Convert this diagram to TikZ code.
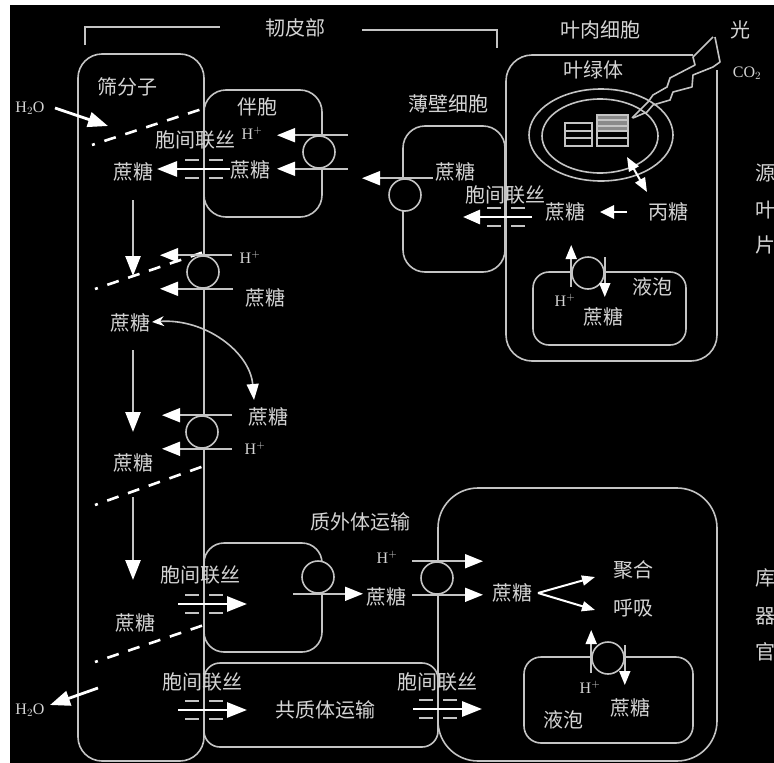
\documentclass[tikz,border=0pt]{standalone}
\usepackage{fontspec}
\setmainfont{Liberation Serif}
\newfontfamily\cjk{Noto Sans CJK SC}
\usetikzlibrary{arrows.meta}
\definecolor{wallc}{HTML}{C4C4C4}
\definecolor{txtc}{HTML}{D4D4D4}
\definecolor{granum}{HTML}{8A8A8A}
\begin{document}
\begin{tikzpicture}[x=1pt,y=-1pt,
  wall/.style={draw=wallc,line width=1.6pt},
  bracket/.style={draw=wallc,line width=2.4pt},
  lbl/.style={text=txtc,inner sep=0pt,font=\cjk\fontsize{20pt}{20pt}\selectfont},
  hlbl/.style={text=txtc,inner sep=0pt,font=\fontsize{16pt}{16pt}\selectfont},
  flow/.style={draw=white,line width=2.8pt,-{Triangle[length=20pt,width=15pt]}},
  sieveflow/.style={draw=wallc,line width=2.6pt,-{Triangle[length=20pt,width=15pt,color=white]}},
  carrier/.style={draw=wallc,line width=1.8pt,-{Triangle[length=18pt,width=14pt,color=white]}},
  vcarrier/.style={draw=wallc,line width=1.8pt,-{Triangle[length=14pt,width=11pt,color=white]}},
  branch/.style={draw=white,line width=2pt,-{Triangle[length=13pt,width=10pt]}},
  pump/.style={circle,draw=wallc,line width=1.6pt,fill=black,minimum size=32pt,inner sep=0pt},
  wet/.style={draw=white,line width=2.6pt,dash pattern=on 12pt off 10pt,dash phase=9pt},
  pdl/.style={draw=wallc,line width=2.6pt},
  pd/.pic={\draw[pdl] (-19,-9)--(-5,-9) (5,-9)--(19,-9) (-19,9)--(-5,9) (5,9)--(19,9);},
  bolt/.style={draw=wallc,line width=1.6pt,line join=round}
]
\useasboundingbox (0,0) rectangle (774,763);
\fill[white] (0,0) rectangle (774,763);
\fill[black] (10,5) rectangle (774,763);

% ---------- phloem bracket ----------
\node[lbl] (phloem) at (295,28) {韧皮部};
\coordinate (brL1) at (85,45); \coordinate (brL2) at (220,27);
\coordinate (brR1) at (362,30); \coordinate (brR2) at (497,48);
\draw[bracket] (brL1) |- (brL2);
\draw[bracket] (brR1) -| (brR2);

% ---------- cell outlines ----------
\draw[wall,rounded corners=24pt] (78,54) rectangle (204,761);      % sieve element
\draw[wall,rounded corners=22pt] (204,90) rectangle (322,217);     % companion cell
\draw[wall,rounded corners=22pt] (403,126) rectangle (505,272);    % parenchyma
\draw[wall,rounded corners=26pt] (693,55) -- (506,55) -- (506,361) -- (717,361) -- (717,70); % mesophyll
\draw[wall,rounded corners=16pt] (533,272) rectangle (686,345);    % mesophyll vacuole
\draw[wall] (601,135) ellipse [x radius=72pt, y radius=46pt];      % chloroplast
\draw[wall] (600,136) ellipse [x radius=58pt, y radius=37pt];
\draw[wall,rounded corners=20pt] (204,543) rectangle (322,652);    % lower companion cell
\draw[wall,rounded corners=16pt] (204,663) rectangle (438,747);    % symplastic path cell
\draw[wall,rounded corners=40pt] (438,488) rectangle (717,761);    % sink cell
\draw[wall,rounded corners=17pt] (524,657) rectangle (693,743);    % sink vacuole

% ---------- grana ----------
\fill[granum] (597,115) rectangle (628,131);
\draw[wall,line width=1.4pt] (565,123) rectangle (592,146) (565,131) -- (592,131) (565,138) -- (592,138);
\draw[wall,line width=1.4pt] (597,115) rectangle (628,146) (597,120) -- (628,120) (597,126) -- (628,126)
  (597,131) -- (628,131) (597,138) -- (628,138);

% ---------- light bolt ----------
\draw[bolt] (713,37) -- (693,57) -- (695,65) -- (670,78) -- (667,87) -- (653,95) -- (648,102) -- (632,118);
\draw[bolt] (715,37) -- (720,62) -- (713,67) -- (693,75) -- (692,87) -- (673,92) -- (670,100) -- (653,105) -- (647,112) -- (633,118);

% ---------- water paths ----------
\coordinate (w1a) at (92,145);  \coordinate (w1b) at (205,108);
\coordinate (w2a) at (95,289);  \coordinate (w2b) at (204,252);
\coordinate (w3a) at (95,505);  \coordinate (w3b) at (204,466);
\coordinate (w4a) at (95,662);  \coordinate (w4b) at (204,625);
\draw[wet] (w1a) -- (w1b);
\draw[wet] (w2a) -- (w2b);
\draw[wet] (w3a) -- (w3b);
\draw[wet] (w4a) -- (w4b);

% ---------- carriers ----------
\node[pump] (tA) at (319,152) {};
\node[pump] (tB) at (203,272) {};
\node[pump] (tC) at (202,432) {};
\node[pump] (tD) at (405,195) {};
\node[pump] (tE) at (588,273) {};
\node[pump] (tF) at (318,577) {};
\node[pump] (tG) at (437,578) {};
\node[pump] (tH) at (608,658) {};

\draw[carrier] ([xshift=29pt]tA.north) -- ([xshift=-42pt]tA.north);
\draw[carrier] ([xshift=29pt]tA.south) -- ([xshift=-42pt]tA.south);
\draw[carrier] ([xshift=29pt]tB.north) -- ([xshift=-43pt]tB.north);
\draw[carrier] ([xshift=30pt]tB.south) -- ([xshift=-43pt]tB.south);
\draw[carrier] ([xshift=30pt]tC.north) -- ([xshift=-40pt]tC.north);
\draw[carrier] ([xshift=30pt]tC.south) -- ([xshift=-40pt]tC.south);
\draw[carrier] ([xshift=28pt]tD.north) -- ([xshift=-43pt]tD.north);
\draw[vcarrier] ([yshift=-14pt]tE.west) -- ([yshift=28pt]tE.west);
\draw[vcarrier] ([yshift=16pt]tE.east) -- ([yshift=-24pt]tE.east);
\draw[carrier] ([xshift=-25pt]tF.south) -- ([xshift=45pt]tF.south);
\draw[carrier] ([xshift=-25pt]tG.north) -- ([xshift=46pt]tG.north);
\draw[carrier] ([xshift=-25pt]tG.south) -- ([xshift=46pt]tG.south);
\draw[vcarrier] ([yshift=-15pt]tH.west) -- ([yshift=28pt]tH.west);
\draw[vcarrier] ([yshift=13pt]tH.east) -- ([yshift=-27pt]tH.east);

% ---------- plasmodesmata ----------
\pic at (204,169) {pd};
\pic at (506,217) {pd};
\pic at (204,604) {pd};
\pic at (204,710) {pd};
\pic at (438,709) {pd};

% ---------- flows ----------
\coordinate (pA1) at (230,169); \coordinate (pA2) at (157,169);
\coordinate (pB1) at (532,217); \coordinate (pB2) at (463,217);
\coordinate (pC1) at (178,604); \coordinate (pC2) at (247,604);
\coordinate (pD1) at (178,710); \coordinate (pD2) at (247,710);
\coordinate (pE1) at (413,709); \coordinate (pE2) at (482,709);
\draw[flow] (pA1) -- (pA2);
\draw[flow,-{Triangle[length=17pt,width=14pt]}] (pB1) -- (pB2);
\draw[flow] (pC1) -- (pC2);
\draw[flow] (pD1) -- (pD2);
\draw[flow] (pE1) -- (pE2);

\coordinate (dnA1) at (133,200); \coordinate (dnA2) at (133,276);
\coordinate (dnB1) at (133,350); \coordinate (dnB2) at (133,432);
\coordinate (dnC1) at (133,497); \coordinate (dnC2) at (133,580);
\draw[sieveflow] (dnA1) -- (dnA2);
\draw[sieveflow] (dnB1) -- (dnB2);
\draw[sieveflow] (dnC1) -- (dnC2);

% ---------- labels ----------
\node[lbl] (meso) at (600,30) {叶肉细胞};
\node[lbl] (light) at (740,30) {光};
\node[hlbl] (co2) at (747,73) {CO$_2$};
\node[lbl] (chl) at (593,70) {叶绿体};
\node[lbl] (sieve) at (127,87) {筛分子};
\node[lbl] (comp) at (257,107) {伴胞};
\node[hlbl] (hA) at (252,133) {H$^+$};
\node[lbl] (pdA) at (195,140) {胞间联丝};
\node[lbl] (sA) at (250,170) {蔗糖};
\node[lbl] (sS1) at (133,172) {蔗糖};
\node[lbl] (par) at (448,104) {薄壁细胞};
\node[lbl] (sP) at (455,172) {蔗糖};
\node[lbl] (pdB) at (505,195) {胞间联丝};
\node[lbl] (sM) at (565,212) {蔗糖};
\node[lbl] (tri) at (668,212) {丙糖};
\node[lbl] (vacA) at (652,287) {液泡};
\node[hlbl] (hE) at (565,300) {H$^+$};
\node[lbl] (sV) at (603,317) {蔗糖};
\node[lbl] (src1) at (765,173) {源};
\node[lbl] (src2) at (765,210) {叶};
\node[lbl] (src3) at (765,245) {片};
\node[hlbl] (wTop) at (30,108) {H$_2$O};
\node[hlbl] (hB) at (250,257) {H$^+$};
\node[lbl] (sB) at (265,298) {蔗糖};
\node[lbl] (sS2) at (130,323) {蔗糖};
\node[lbl] (sC) at (268,417) {蔗糖};
\node[hlbl] (hC) at (255,448) {H$^+$};
\node[lbl] (sS3) at (133,463) {蔗糖};
\node[lbl] (apo) at (360,522) {质外体运输};
\node[hlbl] (hG) at (387,557) {H$^+$};
\node[lbl] (pdC) at (200,575) {胞间联丝};
\node[lbl] (sApo) at (386,597) {蔗糖};
\node[lbl] (sK) at (512,593) {蔗糖};
\node[lbl] (poly) at (633,570) {聚合};
\node[lbl] (resp) at (633,608) {呼吸};
\node[lbl] (sS4) at (135,623) {蔗糖};
\node[lbl] (pdD) at (202,682) {胞间联丝};
\node[lbl] (pdE) at (437,682) {胞间联丝};
\node[hlbl] (hH) at (590,687) {H$^+$};
\node[hlbl] (wBot) at (30,710) {H$_2$O};
\node[lbl] (sym) at (325,710) {共质体运输};
\node[lbl] (sH) at (630,708) {蔗糖};
\node[lbl] (vacB) at (563,720) {液泡};
\node[lbl] (sink1) at (765,578) {库};
\node[lbl] (sink2) at (765,616) {器};
\node[lbl] (sink3) at (765,652) {官};

% ---------- connectors between labels ----------
\coordinate (wTa) at (55,108); \coordinate (wTb) at (108,126);
\draw[flow] (wTa) -- (wTb);
\coordinate (wBa) at (98,688); \coordinate (wBb) at (50,705);
\draw[flow] (wBa) -- (wBb);

\coordinate (triA) at (627,212); \coordinate (triB) at (600,212);
\draw[flow,-{Triangle[length=14pt,width=13pt]}] (triA) -- (triB);

\coordinate (chA) at (627,157); \coordinate (chB) at (647,192);
\draw[draw=white,line width=2pt,{Triangle[length=14pt,width=11pt]}-{Triangle[length=14pt,width=11pt]}] (chA) -- (chB);

\coordinate (cvA) at (152,322); \coordinate (cvB) at (254,400);
\draw[draw=wallc,line width=1.6pt,{Stealth[length=12pt,width=10pt,color=white]}-{Triangle[length=16pt,width=12pt,color=white]}]
  (cvA) .. controls (205,318) and (250,352) .. (cvB);

\coordinate (brA) at (538,593); \coordinate (brB) at (595,577); \coordinate (brC) at (595,610);
\draw[branch] (brA) -- (brB);
\draw[branch] (brA) -- (brC);
\end{tikzpicture}
\end{document}
